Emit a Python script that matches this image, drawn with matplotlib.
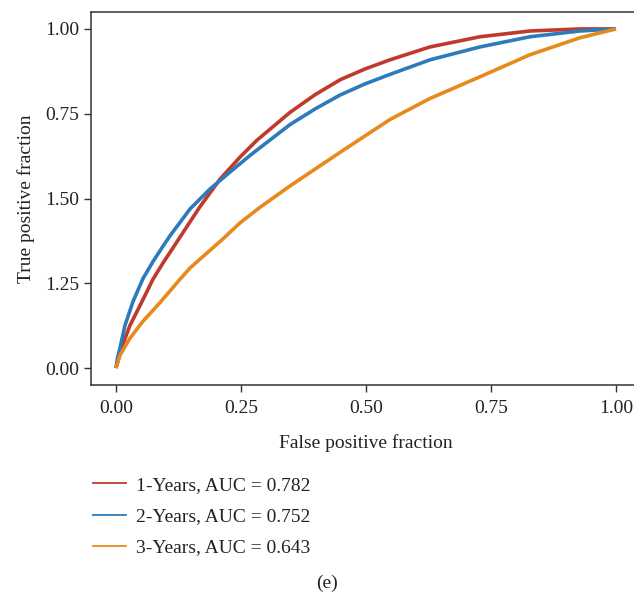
import matplotlib
matplotlib.use("Agg")
import matplotlib.pyplot as plt
from matplotlib.lines import Line2D

plt.rcParams['font.family'] = ['Liberation Serif', 'DejaVu Serif']

# ROC points
x_1yr = [0, 0.011, 0.028, 0.052, 0.074, 0.094, 0.112, 0.128, 0.168, 0.208,
         0.248, 0.282, 0.348, 0.398, 0.448, 0.498, 0.548, 0.628, 0.728, 0.828, 0.928, 1.0]
y_1yr = [0, 0.059, 0.126, 0.196, 0.262, 0.310, 0.350, 0.386, 0.476, 0.557,
         0.622, 0.672, 0.754, 0.806, 0.850, 0.882, 0.909, 0.947, 0.977, 0.994, 1.0, 1.0]

x_2yr = [0, 0.003, 0.008, 0.018, 0.034, 0.054, 0.074, 0.092, 0.108, 0.148,
         0.188, 0.228, 0.268, 0.348, 0.398, 0.448, 0.498, 0.548, 0.628, 0.728, 0.828, 0.928, 1.0]
y_2yr = [0, 0.030, 0.059, 0.126, 0.196, 0.264, 0.314, 0.355, 0.390, 0.469,
         0.528, 0.578, 0.627, 0.718, 0.764, 0.805, 0.838, 0.866, 0.909, 0.947, 0.977, 0.994, 1.0]

x_3yr = [0, 0.008, 0.028, 0.054, 0.088, 0.124, 0.148, 0.214, 0.248, 0.288,
         0.348, 0.448, 0.548, 0.628, 0.728, 0.828, 0.928, 1.0]
y_3yr = [0, 0.038, 0.088, 0.138, 0.193, 0.255, 0.295, 0.381, 0.428, 0.474,
         0.537, 0.636, 0.733, 0.795, 0.859, 0.924, 0.974, 1.0]

labels = ["1-Years, AUC = 0.782", "2-Years, AUC = 0.752", "3-Years, AUC = 0.643"]
colors = ["#C0392B", "#2C7BBA", "#E8891C"]

xticks = [0.00, 0.25, 0.50, 0.75, 1.00]
xtick_labels = ["0.00", "0.25", "0.50", "0.75", "1.00"]
ytick_labels = ["0.00", "1.25", "1.50", "0.75", "1.00"]

fig = plt.figure(figsize=(6.34, 5.94), dpi=100)
ax = fig.add_axes([91 / 634, 1 - 385 / 594, 550 / 634, 373 / 594])

for xs, ys, c in zip([x_1yr, x_2yr, x_3yr], [y_1yr, y_2yr, y_3yr], colors):
    ax.plot(xs, ys, color=c, lw=2.6, solid_capstyle='butt', solid_joinstyle='round')

ax.set_xlim(-0.05, 1.05)
ax.set_ylim(-0.05, 1.05)
ax.set_xticks(xticks)
ax.set_xticklabels(xtick_labels)
ax.set_yticks(xticks)
ax.set_yticklabels(ytick_labels)
ax.tick_params(labelsize=14, length=5, width=1, color='#333333', labelcolor='#222222')
ax.tick_params(axis='x', pad=6)
ax.spines['right'].set_visible(False)
for s in ax.spines.values():
    s.set_color('#333333')
    s.set_linewidth(1.1)
ax.set_xlabel("False positive fraction", fontsize=14, color='#222222', labelpad=12)
ax.set_ylabel("True positive fraction", fontsize=14, color='#222222', labelpad=7)

handles = [Line2D([], [], color=c, lw=1.3) for c in colors]
fig.legend(handles, labels, loc='upper left', bbox_to_anchor=(75 / 634, 1 - 459 / 594),
           frameon=False, fontsize=14, handlelength=1.7, handletextpad=0.55,
           labelspacing=0.7, labelcolor='#222222')

fig.text(327 / 634, 1 - 583 / 594, "(e)", fontsize=14, ha='center', va='center', color='#222222')

fig.savefig("out.png", dpi=100)
